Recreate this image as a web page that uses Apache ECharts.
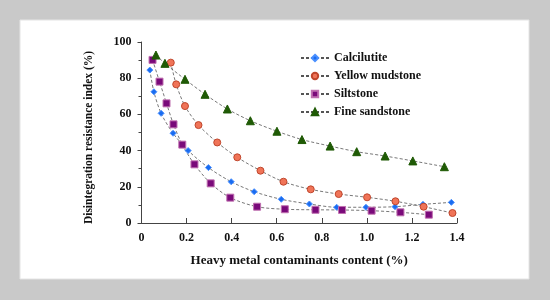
<!DOCTYPE html>
<html>
<head>
<meta charset="utf-8">
<script src="https://cdn.jsdelivr.net/npm/echarts@6/dist/echarts.min.js"></script>
<style>
  html, body { margin: 0; padding: 0; background: #c9c9c9; }
  #main { width: 550px; height: 300px; }
</style>
</head>
<body>
<div id="main"></div>
<script>
var calcilutite = [[0.037, 84.5], [0.055, 72.5], [0.087, 60.6], [0.14, 49.6], [0.207, 40], [0.297, 30.6],
  [0.398, 22.8], [0.50, 17.3], [0.62, 13.1], [0.745, 10.5], [0.866, 8.7], [0.996, 8.7], [1.125, 9.0],
  [1.249, 10.3], [1.375, 11.4]];
var yellowMudstone = [[0.13, 88.6], [0.154, 76.6], [0.193, 64.6], [0.253, 54.1], [0.336, 44.5], [0.425, 36.3],
  [0.528, 28.9], [0.63, 22.8], [0.751, 18.6], [0.875, 16.0], [1.001, 14.2], [1.127, 12.0], [1.252, 9.0],
  [1.38, 5.5]];
var siltstone = [[0.049, 90.1], [0.08, 78.1], [0.111, 66.1], [0.142, 54.5], [0.181, 43.3], [0.235, 32.4],
  [0.307, 21.9], [0.394, 14.0], [0.513, 9.0], [0.636, 7.6], [0.772, 7.3], [0.89, 7.2], [1.021, 6.8],
  [1.149, 5.9], [1.275, 4.6]];
var fineSandstone = [[0.064, 92.8], [0.104, 88.2], [0.193, 79.4], [0.282, 71.1], [0.381, 63.0], [0.483, 56.5],
  [0.601, 50.7], [0.712, 46.1], [0.837, 42.5], [0.955, 39.4], [1.081, 37.0], [1.204, 34.3], [1.344, 31.1]];

var font = 'Liberation Serif';
var chart = echarts.init(document.getElementById('main'));

function line(name, data, symbol, size, color, border) {
  return {
    name: name,
    type: 'line',
    data: data,
    smooth: 0.3,
    symbol: symbol,
    symbolSize: size,
    lineStyle: { color: '#555', width: 0.8, type: [3, 2] },
    itemStyle: { color: color, borderColor: border, borderWidth: 1, opacity: 1 },
    z: 3
  };
}

var option = {
  backgroundColor: '#c9c9c9',
  animation: false,
  graphic: [{
    type: 'rect',
    shape: { x: 20, y: 20, width: 509, height: 259 },
    style: { fill: '#fff', stroke: '#e4e4e4', lineWidth: 1 },
    z: -10
  }],
  grid: { left: 141.5, right: 93, top: 42, bottom: 77 },
  legend: {
    orient: 'vertical',
    left: 295,
    top: 47,
    itemWidth: 28,
    itemHeight: 8,
    itemGap: 6,
    textStyle: { fontFamily: font, fontWeight: 'bold', fontSize: 12, color: '#111' },
    data: ['Calcilutite', 'Yellow mudstone', 'Siltstone', 'Fine sandstone']
  },
  xAxis: {
    type: 'value',
    min: 0,
    max: 1.4,
    interval: 0.2,
    name: 'Heavy metal contaminants content (%)',
    nameLocation: 'middle',
    nameGap: 31,
    nameTextStyle: { fontFamily: font, fontWeight: 'bold', fontSize: 13, color: '#111' },
    axisLine: { lineStyle: { color: '#444', width: 1 } },
    axisTick: { inside: true, length: 5, lineStyle: { color: '#444' } },
    splitLine: { show: false },
    axisLabel: {
      margin: 9,
      fontFamily: font, fontWeight: 'bold', fontSize: 12, color: '#111',
      formatter: function (v) { return v === 0 ? '0' : v.toFixed(1); }
    }
  },
  yAxis: {
    type: 'value',
    min: 0,
    max: 100,
    interval: 20,
    name: 'Disintegration resistance index (%)',
    nameLocation: 'middle',
    nameGap: 46,
    nameTextStyle: { fontFamily: font, fontWeight: 'bold', fontSize: 11.5, color: '#111', padding: [0, 10, 0, 0] },
    axisLine: { show: true, lineStyle: { color: '#444', width: 1 } },
    axisTick: { show: true, length: 4, lineStyle: { color: '#444' } },
    minorTick: { show: true, splitNumber: 2, length: 3, lineStyle: { color: '#444' } },
    splitLine: { show: false },
    axisLabel: { margin: 10, fontFamily: font, fontWeight: 'bold', fontSize: 12, color: '#111' }
  },
  series: [
    line('Calcilutite', calcilutite, 'diamond', 6, '#1a6cf0', '#4a90ff'),
    line('Yellow mudstone', yellowMudstone, 'circle', 7, '#f07458', '#c0462c'),
    line('Siltstone', siltstone, 'rect', 7, '#7a0a7a', '#c070b0'),
    line('Fine sandstone', fineSandstone, 'triangle', 8, '#1f5a05', '#1f5a05')
  ]
};
chart.setOption(option);
</script>
</body>
</html>
